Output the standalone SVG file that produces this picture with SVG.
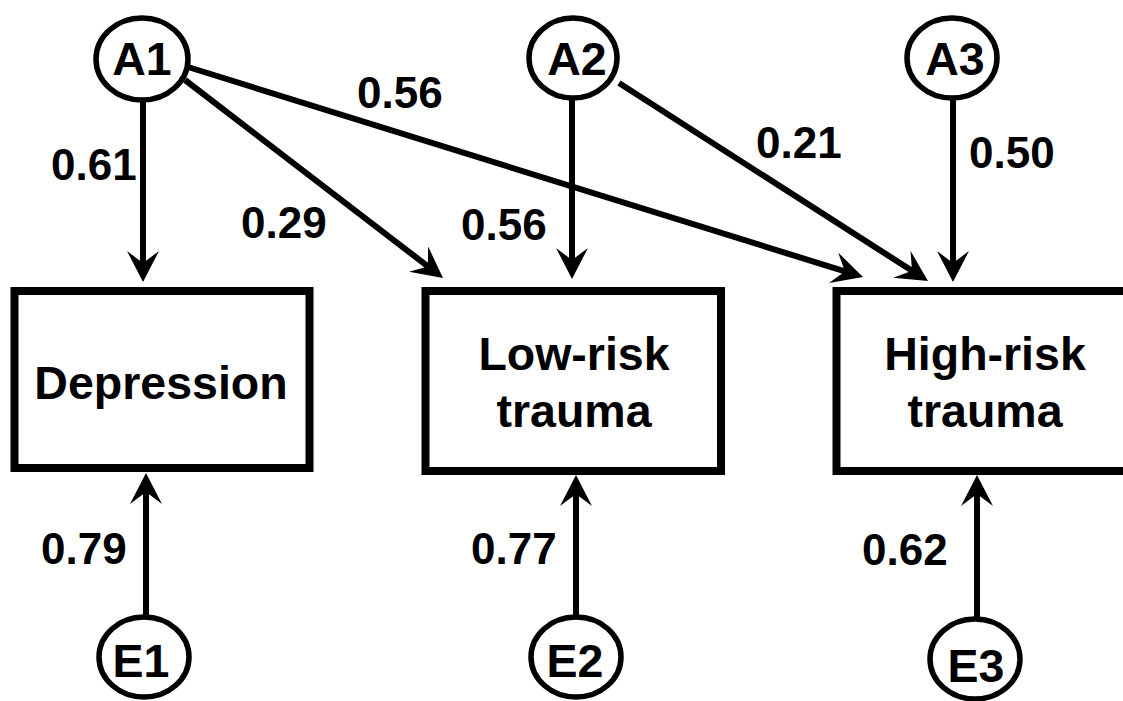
<svg xmlns="http://www.w3.org/2000/svg" width="1123" height="701" viewBox="0 0 1123 701">
<style>
.node{fill:#fff;stroke:#000;stroke-width:5.5}
.box{fill:#fff;stroke:#000;stroke-width:8}
.lbl{font-family:"Liberation Sans",Arial,sans-serif;font-weight:bold;font-size:44px;fill:#000}
.big{font-size:46.5px}
.mid{text-anchor:middle}
.edge{stroke:#000;stroke-width:6;fill:none;marker-end:url(#ah)}
</style>
<defs>
<marker id="ah" markerUnits="userSpaceOnUse" viewBox="0 0 31 32" markerWidth="31" markerHeight="32" refX="12" refY="16" orient="auto">
<path d="M31,16 L0,0 L12,16 L0,32 Z" fill="#000"/>
</marker>
</defs>
<rect width="1123" height="701" fill="#fff"/>
<g id="connectors">
<line class="edge" x1="143" y1="100" x2="143" y2="263"/>
<line class="edge" x1="185" y1="80" x2="427.9" y2="266.4"/>
<line class="edge" x1="188" y1="67" x2="844.9" y2="271.4"/>
<line class="edge" x1="572" y1="98" x2="572" y2="260"/>
<line class="edge" x1="619" y1="83" x2="912" y2="270.8"/>
<line class="edge" x1="953" y1="98" x2="953" y2="263"/>
<line class="edge" x1="146" y1="617" x2="146" y2="492"/>
<line class="edge" x1="576" y1="617" x2="576" y2="494"/>
<line class="edge" x1="977" y1="619" x2="977" y2="494"/>
<text class="lbl" x="51" y="180">0.61</text>
<text class="lbl" x="241" y="238">0.29</text>
<text class="lbl" x="357" y="108">0.56</text>
<text class="lbl" x="461" y="240">0.56</text>
<text class="lbl" x="756" y="158">0.21</text>
<text class="lbl" x="969" y="168">0.50</text>
<text class="lbl" x="41" y="564">0.79</text>
<text class="lbl" x="471" y="564">0.77</text>
<text class="lbl" x="862" y="565">0.62</text>
</g>
<g id="A1"><ellipse class="node" cx="142" cy="59" rx="46" ry="41"/><text class="lbl big mid" x="142" y="75">A1</text></g>
<g id="A2"><ellipse class="node" cx="573" cy="58" rx="44" ry="40"/><text class="lbl big mid" x="577" y="75">A2</text></g>
<g id="A3"><ellipse class="node" cx="952" cy="58" rx="45" ry="40"/><text class="lbl big mid" x="955" y="75">A3</text></g>
<g id="E1"><ellipse class="node" cx="144" cy="657" rx="45" ry="40"/><text class="lbl big mid" x="141" y="677">E1</text></g>
<g id="E2"><ellipse class="node" cx="576" cy="657" rx="45" ry="40"/><text class="lbl big mid" x="575" y="677">E2</text></g>
<g id="E3"><ellipse class="node" cx="975" cy="659" rx="45" ry="40"/><text class="lbl big mid" x="976" y="682">E3</text></g>
<g id="Depression"><rect class="box" x="14.5" y="291" width="295" height="177"/><text class="lbl big mid" x="161" y="399">Depression</text></g>
<g id="LowRisk"><rect class="box" x="425.5" y="291" width="295.5" height="180"/><text class="lbl big mid" x="574" y="370">Low-risk</text><text class="lbl big mid" x="574" y="427">trauma</text></g>
<g id="HighRisk"><rect class="box" x="836.5" y="291" width="292" height="180"/><text class="lbl big mid" x="985" y="370">High-risk</text><text class="lbl big mid" x="985" y="427">trauma</text></g>
</svg>
